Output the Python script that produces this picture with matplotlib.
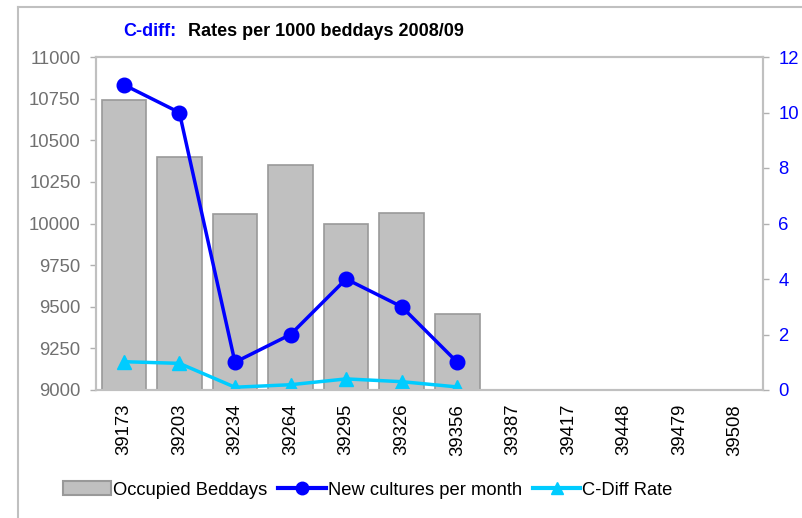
import numpy as np
import matplotlib
matplotlib.use("Agg")
from matplotlib import pyplot as plt
from matplotlib.lines import Line2D
from matplotlib.patches import Patch


# =============================================================================
# Data
# =============================================================================
months = ['39173', '39203', '39234', '39264', '39295', '39326', '39356',
    '39387', '39417', '39448', '39479', '39508']
beddays = [10740, 10400, 10055, 10350, 10000, 10065, 9455,
    np.nan, np.nan, np.nan, np.nan, np.nan]
new_cultures = [11, 10, 1, 2, 4, 3, 1,
    np.nan, np.nan, np.nan, np.nan, np.nan]
cdiff_rate = [1.02, 0.96, 0.10, 0.19, 0.40, 0.30, 0.11,
    np.nan, np.nan, np.nan, np.nan, np.nan]
left_ticks = [9000, 9250, 9500, 9750, 10000, 10250, 10500, 10750, 11000]
right_ticks = [0, 2, 4, 6, 8, 10, 12]


# =============================================================================
# Plot parameters
# =============================================================================
fontsize = 13.3
plt.rcParams['font.family'] = ['Liberation Sans', 'DejaVu Sans']
plt.rcParams['font.size'] = fontsize
frame_col = '#c0c0c0'
bar_col = '#c0c0c0'
blue = '#0000ff'
cyan = '#00ccff'

fig = plt.figure(figsize=(8.03, 5.18), dpi=100)

# Outer chart border (only left and top edges are visible)
fig.add_artist(Line2D([18/803, 18/803], [0, 1 - 7/518], color=frame_col,
    linewidth=1.5, transform=fig.transFigure))
fig.add_artist(Line2D([18/803, 1], [1 - 7/518, 1 - 7/518], color=frame_col,
    linewidth=1.5, transform=fig.transFigure))

ax = fig.add_axes([96/803, 1 - 390/518, (763 - 96)/803, (390 - 57)/518])
x = np.arange(len(months))

# Occupied beddays (bars, left axis)
ax.bar(x, beddays, width=0.8, color=bar_col, edgecolor='#999999',
    linewidth=1.2)
ax.set_ylim(9000, 11000)
ax.set_yticks(left_ticks)
ax.set_xlim(-0.5, len(months) - 0.5)
ax.set_xticks(x)
ax.set_xticklabels(months, rotation=90)
ax.tick_params(axis='y', colors='#b0b0b0', labelcolor='#707070', length=4.5,
    width=1, pad=6.5, labelsize=fontsize)
ax.tick_params(axis='x', length=0, labelsize=fontsize, pad=10)
for sp in ax.spines.values():
    sp.set_color(frame_col)
    sp.set_linewidth(1.5)

# Lines on the right axis
ax2 = ax.twinx()
ax2.plot(x, new_cultures, color=blue, linewidth=2.5, marker='o',
    markersize=10.5)
ax2.plot(x, cdiff_rate, color=cyan, linewidth=2.5, marker='^',
    markersize=10.5)
ax2.set_ylim(0, 12)
ax2.set_yticks(right_ticks)
ax2.tick_params(axis='y', colors='#b0b0b0', labelcolor=blue, length=4.5,
    width=1, pad=6.5, labelsize=fontsize)
for sp in ax2.spines.values():
    sp.set_color(frame_col)
    sp.set_linewidth(1.5)

# Title
fig.text(123/803, 1 - 31/518, 'C-diff:', color=blue, fontsize=13,
    fontweight='bold', va='center', ha='left')
fig.text(188/803, 1 - 31/518, 'Rates per 1000 beddays 2008/09', color='k',
    fontsize=13, fontweight='bold', va='center', ha='left')

# Legend
handles = [
    Patch(facecolor=bar_col, edgecolor='#999999', linewidth=1.5),
    Line2D([], [], color=blue, linewidth=3, marker='o', markersize=9),
    Line2D([], [], color=cyan, linewidth=3, marker='^', markersize=9),
]
labels = ['Occupied Beddays', 'New cultures per month', 'C-Diff Rate']
fig.legend(handles, labels, loc='center', bbox_to_anchor=(368/803, 1 - 490/518),
    ncol=3, frameon=False, fontsize=13.2, handlelength=2.6, handleheight=0.8,
    handletextpad=0.1, columnspacing=0.6)

fig.savefig('out.png', dpi=100)
plt.close()
